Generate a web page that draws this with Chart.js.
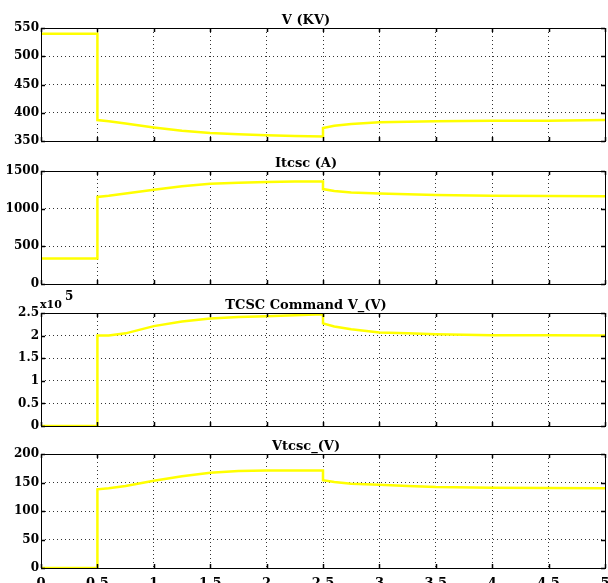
<!DOCTYPE html>
<html>
<head>
<meta charset="utf-8">
<script src="https://cdn.jsdelivr.net/npm/chart.js@4.4.1/dist/chart.umd.min.js"></script>
<style>
    body { margin: 0; background: #fff; overflow: hidden; width: 608px; height: 583px; }
    .panel { position: absolute; left: 0; }
</style>
</head>
<body>
<div class="panel" style="top:0px"><canvas id="voltChart" width="620" height="150"></canvas></div>
<div class="panel" style="top:143px"><canvas id="itcscChart" width="620" height="150"></canvas></div>
<div class="panel" style="top:285px"><canvas id="commandChart" width="620" height="150"></canvas></div>
<div class="panel" style="top:426px"><canvas id="vtcscChart" width="620" height="170"></canvas></div>
<script>
// time axis (s), step jumps at 0.5 and 2.5 are repeated points
const timeArr = [0, 0.5, 0.5, 0.6, 0.75, 1, 1.25, 1.5, 1.75, 2, 2.25, 2.5, 2.5, 2.6, 2.75, 3, 3.25, 3.5, 4, 4.5, 5];

const voltArr = [540, 540, 387, 385, 381, 374, 368, 364, 362, 360, 359, 358, 373, 377, 380, 383, 384, 385, 386, 386, 387];
const itcscArr = [340, 340, 1155, 1170, 1200, 1250, 1296, 1330, 1345, 1355, 1360, 1362, 1260, 1235, 1215, 1200, 1190, 1182, 1172, 1167, 1165];
const commandArr = [0, 0, 200000, 200000, 205000, 221000, 231000, 238000, 241000, 243000, 245000, 247000, 227000, 220000, 214000, 207000, 205000, 203000, 201000, 200500, 200000];
const vtcscArr = [0, 0, 138, 140, 144, 153, 161, 167, 170, 171, 171, 171, 154, 151, 148, 146, 144, 142, 141, 140.5, 140];

// tick labels
const xTickArr = [0, 0.5, 1, 1.5, 2, 2.5, 3, 3.5, 4, 4.5, 5];
const voltTicks = [350, 400, 450, 500, 550];
const itcscTicks = [0, 500, 1000, 1500];
const commandTicks = [0, 50000, 100000, 150000, 200000, 250000];
const vtcscTicks = [0, 50, 100, 150, 200];

const titles = ["V (KV)", "Itcsc (A)", "TCSC Command V_(V)", "Vtcsc_(V)"];

const xTickFont = { family: "DejaVu Serif", weight: "bold", size: 13 };

// box, inward tick marks, y labels and panel title, MATLAB scope style
const scopeFrame = {
    id: "scopeFrame",
    afterDraw(chart, args, opts) {
        const { ctx, chartArea } = chart;
        const { left, right, top, bottom } = chartArea;
        const yScale = chart.scales.y;
        ctx.save();
        ctx.strokeStyle = "#000";
        ctx.lineWidth = 1;
        ctx.strokeRect(left + 0.5, top + 0.5, right - left, bottom - top);

        ctx.beginPath();
        chart.scales.x.ticks.forEach(function (t) {
            const px = Math.round(chart.scales.x.getPixelForValue(t.value)) + 0.5;
            ctx.moveTo(px, bottom); ctx.lineTo(px, bottom - 4);
            ctx.moveTo(px, top); ctx.lineTo(px, top + 4);
        });
        opts.yTicks.forEach(function (v) {
            const py = Math.round(yScale.getPixelForValue(v)) + 0.5;
            ctx.moveTo(left, py); ctx.lineTo(left + 4, py);
            ctx.moveTo(right, py); ctx.lineTo(right - 4, py);
        });
        ctx.lineWidth = 1.5;
        ctx.stroke();

        ctx.fillStyle = "#000";
        ctx.font = "bold 12px 'DejaVu Serif'";
        ctx.textAlign = "right";
        ctx.textBaseline = "middle";
        opts.yTicks.forEach(function (v) {
            ctx.fillText(opts.format(v), left - 2, yScale.getPixelForValue(v));
        });

        ctx.font = "bold 13px 'DejaVu Serif'";
        ctx.textAlign = "center";
        ctx.textBaseline = "alphabetic";
        ctx.fillText(opts.title, 306, top - 4);

        if (opts.exponent) {
            ctx.textAlign = "left";
            ctx.font = "bold 11px 'DejaVu Serif'";
            ctx.fillText("x10", 40, top - 5);
            ctx.font = "bold 12px 'DejaVu Serif'";
            ctx.fillText(opts.exponent, 65, top - 13);
        }
        ctx.restore();
    }
};

function CreateScopeChart(chartID, dataArr, yTickArr, titleText, showXLabels, yFormat, exponent) {
    const canvas = document.getElementById(chartID);
    const points = timeArr.map(function (t, i) {
        return { x: t, y: dataArr[i] };
    });

    return new Chart(canvas, {
        type: "line",
        data: {
            datasets: [{
                data: points,
                borderColor: "#ffff00",
                borderWidth: 2.5,
                pointRadius: 0,
                tension: 0,
                fill: false
            }]
        },
        options: {
            responsive: false,
            animation: false,
            events: [],
            layout: {
                padding: { left: 0, right: 15, top: 28, bottom: showXLabels ? 0 : 9 }
            },
            plugins: {
                legend: { display: false },
                tooltip: { enabled: false },
                scopeFrame: { title: titleText, exponent: exponent, yTicks: yTickArr, format: yFormat }
            },
            scales: {
                x: {
                    type: "linear",
                    min: xTickArr[0],
                    max: xTickArr[xTickArr.length - 1],
                    afterBuildTicks: function (scale) {
                        scale.ticks = xTickArr.map(function (v) { return { value: v }; });
                    },
                    ticks: {
                        display: showXLabels,
                        color: "#000",
                        font: xTickFont,
                        padding: 8,
                        maxRotation: 0,
                        autoSkip: false,
                        maxTicksLimit: 30,
                        callback: function (value) { return String(value); }
                    },
                    grid: {
                        color: "#333",
                        lineWidth: 1,
                        drawTicks: false
                    },
                    border: { display: false, dash: [1, 3] },
                    afterFit: function (scale) {
                        scale.height = showXLabels ? 28 : 0;
                    }
                },
                y: {
                    min: yTickArr[0],
                    max: yTickArr[yTickArr.length - 1],
                    afterBuildTicks: function (scale) {
                        scale.ticks = yTickArr.map(function (v) { return { value: v }; });
                    },
                    ticks: {
                        display: false
                    },
                    grid: {
                        color: "#333",
                        lineWidth: 1,
                        drawTicks: false
                    },
                    border: { display: false, dash: [1, 3] },
                    afterFit: function (scale) {
                        scale.width = 41;
                    }
                }
            }
        },
        plugins: [scopeFrame]
    });
}

const plainFormat = function (value) { return String(Math.round(value)); };
const expFormat = function (value) { return String(Math.round(value / 1e4) / 10); };

CreateScopeChart("voltChart", voltArr, voltTicks, titles[0], false, plainFormat);
CreateScopeChart("itcscChart", itcscArr, itcscTicks, titles[1], false, plainFormat);
CreateScopeChart("commandChart", commandArr, commandTicks, titles[2], false, expFormat, "5");
CreateScopeChart("vtcscChart", vtcscArr, vtcscTicks, titles[3], true, plainFormat);
</script>
</body>
</html>
